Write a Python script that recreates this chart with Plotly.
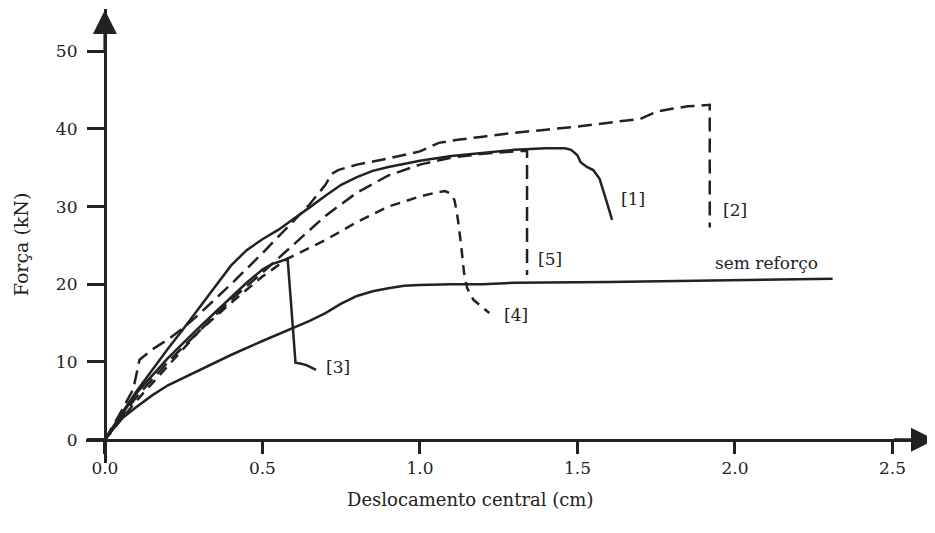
import plotly.graph_objects as go

# ---- data ----
sem_x = [0, 0.05, 0.1, 0.15, 0.2, 0.3, 0.4, 0.5, 0.6, 0.65, 0.7, 0.75, 0.8, 0.85, 0.9, 0.95, 1.0, 1.1, 1.2, 1.3, 1.6, 2.0, 2.31]
sem_y = [0, 2.6, 4.2, 5.7, 7.0, 9.0, 10.9, 12.7, 14.4, 15.3, 16.3, 17.5, 18.5, 19.1, 19.5, 19.8, 19.9, 20.0, 20.0, 20.2, 20.3, 20.5, 20.7]

c1_x = [0, 0.05, 0.1, 0.15, 0.2, 0.25, 0.3, 0.35, 0.4, 0.45, 0.5, 0.55, 0.6, 0.65, 0.7, 0.75, 0.8, 0.85, 0.9, 0.95, 1.0, 1.1, 1.2, 1.3, 1.4, 1.46, 1.48, 1.50, 1.51, 1.53, 1.55, 1.57, 1.59, 1.61]
c1_y = [0, 3.2, 6.2, 9.0, 11.7, 14.3, 17.0, 19.8, 22.4, 24.4, 25.8, 27.0, 28.4, 29.9, 31.4, 32.8, 33.8, 34.6, 35.1, 35.5, 35.9, 36.5, 36.9, 37.3, 37.5, 37.5, 37.3, 36.6, 35.7, 35.1, 34.7, 33.6, 31.0, 28.3]

c2_x = [0, 0.05, 0.09, 0.1, 0.11, 0.15, 0.2, 0.25, 0.3, 0.4, 0.5, 0.6, 0.65, 0.7, 0.72, 0.74, 0.8, 0.9, 1.0, 1.06, 1.12, 1.2, 1.3, 1.4, 1.5, 1.6, 1.7, 1.75, 1.8, 1.85, 1.92, 1.92]
c2_y = [0, 3.5, 6.5, 8.5, 10.3, 11.6, 12.9, 14.4, 16.2, 20.0, 24.0, 28.2, 30.3, 32.8, 34.2, 34.7, 35.4, 36.2, 37.1, 38.2, 38.6, 39.0, 39.5, 39.9, 40.3, 40.8, 41.3, 42.2, 42.6, 42.9, 43.1, 27.3]

c3_x = [0, 0.1, 0.2, 0.3, 0.4, 0.45, 0.5, 0.53, 0.56, 0.58, 0.59, 0.6, 0.605, 0.62, 0.64, 0.67]
c3_y = [0, 6.0, 10.5, 14.5, 18.3, 20.2, 21.9, 22.6, 23.0, 23.3, 18.0, 12.0, 9.9, 9.8, 9.6, 9.0]

c4_x = [0, 0.1, 0.2, 0.3, 0.4, 0.5, 0.58, 0.65, 0.7, 0.8, 0.9, 1.0, 1.05, 1.08, 1.10, 1.11, 1.12, 1.13, 1.14, 1.15, 1.17, 1.22]
c4_y = [0, 5.0, 9.5, 14.0, 17.6, 21.0, 23.3, 24.7, 25.7, 28.0, 30.0, 31.3, 31.8, 32.0, 31.6, 30.8, 28.5, 25.3, 21.5, 19.5, 18.0, 16.3]

c5_x = [0, 0.1, 0.2, 0.3, 0.4, 0.5, 0.6, 0.7, 0.8, 0.9, 1.0, 1.1, 1.2, 1.3, 1.34, 1.34]
c5_y = [0, 5.5, 10.0, 14.0, 18.0, 21.5, 25.2, 28.8, 31.8, 34.0, 35.4, 36.3, 36.8, 37.1, 37.2, 21.2]

x_ticks = [0.0, 0.5, 1.0, 1.5, 2.0, 2.5]
x_tick_text = ["0.0", "0.5", "1.0", "1.5", "2.0", "2.5"]
y_ticks = [0, 10, 20, 30, 40, 50]

curve_labels = ["[1]", "[2]", "[3]", "[4]", "[5]", "sem reforço"]
label_x = [1.633, 1.957, 0.694, 1.26, 1.367, 1.93]
label_y = [31.0, 29.6, 9.4, 16.0, 23.3, 22.8]

# ---- figure ----
INK = "#222222"
FONT = "DejaVu Serif, Liberation Serif, serif"

fig = go.Figure()

def add(x, y, dash):
    fig.add_trace(go.Scatter(x=x, y=y, mode="lines",
                             line=dict(color=INK, width=2.5, dash=dash),
                             showlegend=False, hoverinfo="skip"))

add(sem_x, sem_y, "solid")
add(c1_x, c1_y, "solid")
add(c3_x, c3_y, "solid")
add(c2_x, c2_y, "14px,7px")
add(c4_x, c4_y, "10px,7px")
add(c5_x, c5_y, "14px,7px")

for t, lx, ly in zip(curve_labels, label_x, label_y):
    fig.add_annotation(x=lx, y=ly, text=t, showarrow=False, xanchor="left", yanchor="middle",
                       font=dict(family=FONT, size=17, color=INK))

# axis arrowheads
fig.add_annotation(x=2.635, y=0, ax=2.5, ay=0, xref="x", yref="y", axref="x", ayref="y",
                   text="", showarrow=True, arrowhead=2, arrowsize=1.6, arrowwidth=3, arrowcolor=INK)
fig.add_annotation(x=0, y=55.3, ax=0, ay=50, xref="x", yref="y", axref="x", ayref="y",
                   text="", showarrow=True, arrowhead=2, arrowsize=1.6, arrowwidth=3, arrowcolor=INK)

# axis titles (page has an 8px body offset; figure sized to fit the window)
fig.add_annotation(x=1.16, y=-0.081, xref="x", yref="paper", text="Deslocamento central (cm)",
                   showarrow=False, yanchor="middle", font=dict(family=FONT, size=18, color=INK))
fig.add_annotation(x=-0.077, y=0.481, xref="paper", yref="paper", text="Força (kN)", textangle=-90,
                   showarrow=False, xanchor="center", yanchor="middle", font=dict(family=FONT, size=19, color=INK))

xr = [-0.06, 2.635]
yr = [-3, 55.43]
fig.update_layout(
    width=927, height=525,
    margin=dict(l=78, r=0, t=1, b=70),
    plot_bgcolor="white", paper_bgcolor="white",
    xaxis=dict(range=xr, showgrid=False, zeroline=False, showline=True, linecolor=INK, linewidth=3,
               anchor="free", position=(0 - yr[0]) / (yr[1] - yr[0]), automargin=False,
               tickvals=x_ticks, ticktext=x_tick_text, ticks="outside", ticklen=12, tickwidth=2.5,
               tickcolor=INK, tickfont=dict(family=FONT, size=17, color=INK)),
    yaxis=dict(range=yr, showgrid=False, zeroline=False, showline=True, linecolor=INK, linewidth=3,
               anchor="free", position=(0 - xr[0]) / (xr[1] - xr[0]), automargin=False,
               tickvals=y_ticks, ticks="outside", ticklen=17, tickwidth=2.5, ticklabelstandoff=6,
               tickcolor=INK, tickfont=dict(family=FONT, size=17, color=INK)),
)

fig.write_html("out.html")
